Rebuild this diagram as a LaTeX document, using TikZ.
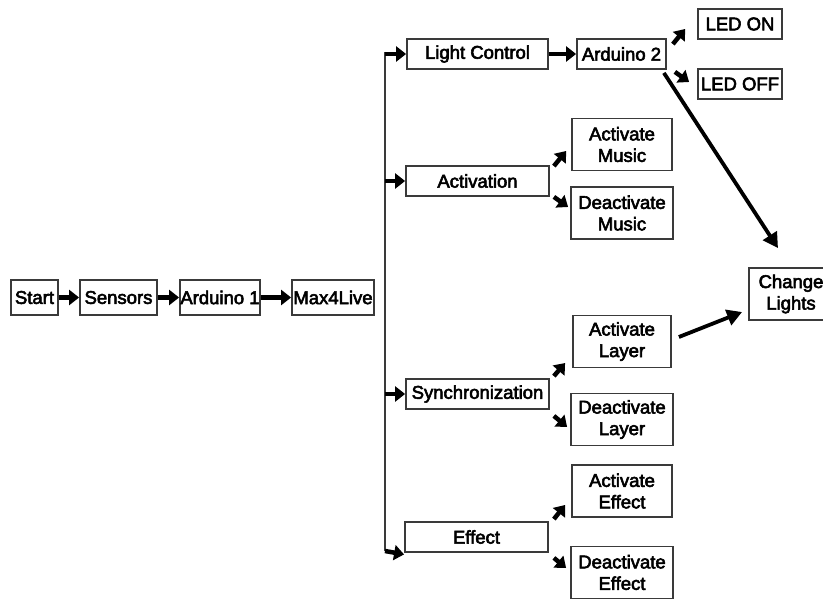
\documentclass[tikz,border=0pt]{standalone}
\usepackage{fontspec}
\setmainfont{Liberation Sans}[FakeBold=3]
\usetikzlibrary{arrows.meta}

\definecolor{boxline}{HTML}{3A3A3A}

\begin{document}
\begin{tikzpicture}[x=1pt,y=-1pt,
  box/.style={draw=boxline,line width=1.8pt,fill=white,inner sep=0pt,
    font=\fontsize{18.5}{21.5}\selectfont,align=center,
    minimum width=#1},
  box/.default=100pt,
  onebox/.style={box=#1,minimum height=30pt},
  rowbox/.style={box=#1,minimum height=35pt},
  twobox/.style={box=#1,minimum height=52pt},
  arr/.style={line width=4.5pt,-{Triangle[length=10pt,width=15pt]}},
  longarr/.style={line width=3.8pt,-{Triangle[length=15pt,width=16pt]}},
  bus/.style={draw=boxline,line width=2.2pt}]

\useasboundingbox (0,0) rectangle (823,599);

% main row
\node[rowbox=47pt]  (start)   at (34.5,297.5) {Start};
\node[rowbox=77pt]  (sensors) at (118.5,297.5) {Sensors};
\node[rowbox=80pt]  (ard1)    at (220,297.5) {Arduino 1};
\node[rowbox=82pt]  (max)     at (333,297.5) {Max4Live};

\draw[arr] (start) -- (sensors);
\draw[arr] (sensors) -- (ard1);
\draw[arr] (ard1) -- (max);

% distribution bus
\coordinate (bustop) at (385,52);
\coordinate (busbot) at (385,551);
\draw[bus] (bustop) -- (busbot);

% second column
\node[onebox=141pt] (lc)     at (477.5,54)  {Light Control};
\node[onebox=143pt] (act)    at (477.5,181) {Activation};
\node[onebox=143pt] (sync)   at (477.5,394) {Synchronization};
\node[onebox=143pt] (effect) at (476.5,537) {Effect};

\draw[arr] (bustop|-lc.west) -- (lc.west);
\draw[arr] (bustop|-act.west) -- (act.west);
\draw[arr] (bustop|-sync.west) -- (sync.west);
\draw[arr] (busbot) -- ([yshift=-1.5pt]effect.south west);

% light control branch
\node[onebox=89pt] (ard2)   at (621.5,54) {Arduino 2};
\node[onebox=84pt] (ledon)  at (740,24)   {LED ON};
\node[onebox=84pt] (ledoff) at (740,84)   {LED OFF};

\draw[arr] (lc) -- (ard2);
\draw[arr] ([shift={(6,6)}]ard2.north east) -- ([shift={(-12,5)}]ledon.west);
\draw[arr] ([shift={(8,2)}]ard2.south east) -- ([shift={(-8,-2)}]ledoff.west);

% activation branch
\node[twobox=100pt] (actmusic)   at (622,144.5) {Activate\\Music};
\node[twobox=102pt] (deactmusic) at (622,213)   {Deactivate\\Music};

\draw[arr] ([shift={(4,1)}]act.north east) -- ([shift={(-5,6.5)}]actmusic.west);
\draw[arr] ([shift={(4,0)}]act.south east) -- ([shift={(-2,-6)}]deactmusic.west);

% synchronization branch
\node[twobox=98pt]  (actlayer)   at (622,341.5) {Activate\\Layer};
\node[twobox=102pt] (deactlayer) at (622,419.5) {Deactivate\\Layer};

\draw[arr] ([shift={(4,-2)}]sync.north east) -- ([shift={(-7,21.5)}]actlayer.west);
\draw[arr] ([shift={(4,6)}]sync.south east) -- ([shift={(-3,7.5)}]deactlayer.west);

% effect branch
\node[twobox=100pt] (acteffect)   at (622,491)   {Activate\\Effect};
\node[twobox=102pt] (deacteffect) at (622,572.5) {Deactivate\\Effect};

\draw[arr] ([shift={(5,-2)}]effect.north east) -- ([shift={(-6,14)}]acteffect.west);
\draw[arr] ([shift={(5,5)}]effect.south east) -- ([shift={(-4,-4.5)}]deacteffect.west);

% lights
\node[twobox=84pt] (change) at (791,294) {Change\\Lights};

\draw[longarr] ([shift={(-3,3)}]ard2.south east) -- ([shift={(-13,-19)}]change.north);
\draw[longarr] ([shift={(7,-4.5)}]actlayer.east) -- ([shift={(-6,18)}]change.west);

\end{tikzpicture}
\end{document}
